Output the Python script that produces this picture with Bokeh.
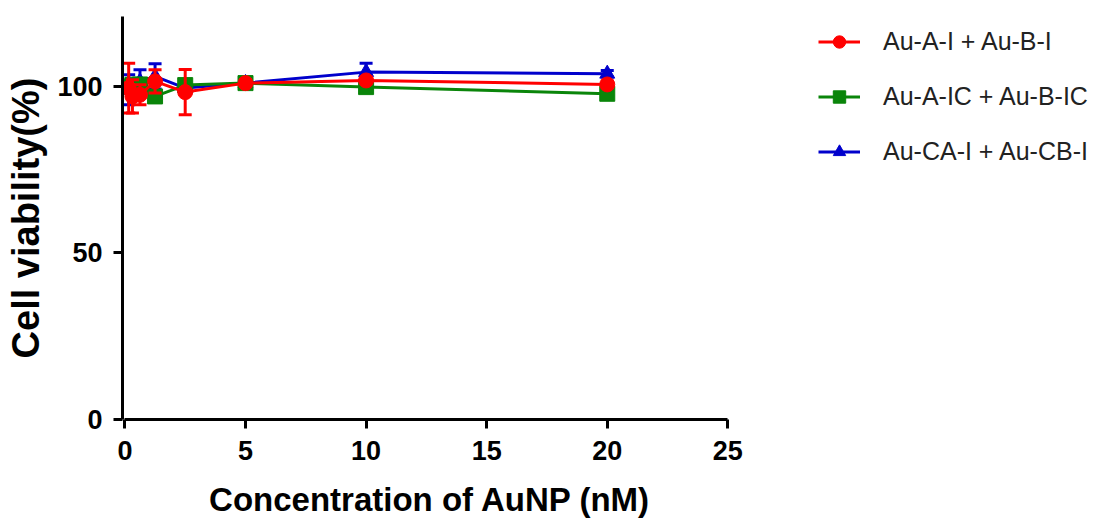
from bokeh.plotting import figure
from bokeh.models import Range1d, FixedTicker, Legend, LegendItem
from bokeh.embed import file_html
from bokeh.resources import INLINE

# ---- data ----
conc = [0.15625, 0.3125, 0.625, 1.25, 2.5, 5, 10, 20]

red_label = "Au-A-I + Au-B-I"
red_mean = [99.5, 97.0, 97.5, 101.5, 98.3, 101.0, 101.8, 100.6]
red_err = [7.5, 5.0, 3.0, 3.5, 6.8, 1.0, 1.0, 1.0]

green_label = "Au-A-IC + Au-B-IC"
green_mean = [100.0, 100.5, 100.6, 97.0, 100.4, 101.0, 99.8, 97.8]
green_err = [1.5, 1.5, 1.5, 1.5, 1.5, 1.0, 1.0, 1.0]

blue_label = "Au-CA-I + Au-CB-I"
blue_mean = [99.0, 100.0, 101.5, 103.0, 99.5, 101.0, 104.3, 103.8]
blue_err = [4.5, 2.0, 3.5, 3.8, 1.5, 1.0, 2.7, 1.0]

x_ticks = [0, 5, 10, 15, 20, 25]
y_ticks = [0, 50, 100]

FONT = "Liberation Sans"

p = figure(
    output_backend="svg", toolbar_location=None,
    frame_width=615, frame_height=403,
    min_border_left=122, min_border_right=356, min_border_top=16, min_border_bottom=0,
    x_range=Range1d(-0.1, 25.4), y_range=Range1d(0, 121),
)
p.outline_line_color = None
p.xgrid.visible = False
p.ygrid.visible = False
p.background_fill_color = "white"

for ax in (p.xaxis[0], p.yaxis[0]):
    ax.axis_line_width = 3
    ax.axis_line_color = "black"
    ax.major_tick_line_width = 3
    ax.major_tick_line_color = "black"
    ax.major_tick_out = 9
    ax.major_tick_in = 0
    ax.minor_tick_line_color = None
    ax.major_label_text_font = FONT
    ax.major_label_text_font_style = "bold"
    ax.major_label_text_font_size = "27px"
    ax.major_label_text_color = "black"
    ax.axis_label_text_font = FONT
    ax.axis_label_text_font_style = "bold"
    ax.axis_label_text_color = "black"

p.xaxis.ticker = FixedTicker(ticks=x_ticks)
p.yaxis.ticker = FixedTicker(ticks=y_ticks)
p.xaxis.bounds = (0, 25)
p.xaxis.axis_label = "Concentration of AuNP (nM)"
p.yaxis.axis_label = "Cell viability(%)"
p.xaxis.axis_label_text_font_size = "33px"
p.yaxis.axis_label_text_font_size = "38px"
p.xaxis.major_label_standoff = 12
p.yaxis.major_label_standoff = 11
p.xaxis.axis_label_standoff = 18
p.yaxis.axis_label_standoff = 7

series = [
    (blue_label, blue_mean, blue_err, "#0000cc", "triangle"),
    (green_label, green_mean, green_err, "#0a850a", "square"),
    (red_label, red_mean, red_err, "#ff0000", "circle"),
]

items = {}
for label, mean, err, color, marker in series:
    upper = [m + e for m, e in zip(mean, err)]
    lower = [m - e for m, e in zip(mean, err)]
    p.segment(x0=conc, y0=lower, x1=conc, y1=upper, line_color=color, line_width=3)
    p.scatter(x=conc, y=upper, marker="dash", size=13, line_color=color, line_width=3)
    p.scatter(x=conc, y=lower, marker="dash", size=13, line_color=color, line_width=3)
    lr = p.line(x=conc, y=mean, line_color=color, line_width=3)
    sr = p.scatter(x=conc, y=mean, marker=marker, size=15, fill_color=color, line_color=color)
    items[label] = LegendItem(label=label, renderers=[lr, sr])

legend = Legend(
    items=[items[red_label], items[green_label], items[blue_label]],
    location=(81, 252),
    orientation="vertical",
    border_line_color=None, background_fill_alpha=0,
    padding=0, margin=0,
    glyph_width=42, glyph_height=31, label_height=31, spacing=24,
    label_standoff=23,
    label_text_font=FONT, label_text_font_size="25px", label_text_color="#222222",
)
p.add_layout(legend, "right")

open("out.html", "w").write(file_html(p, INLINE))
